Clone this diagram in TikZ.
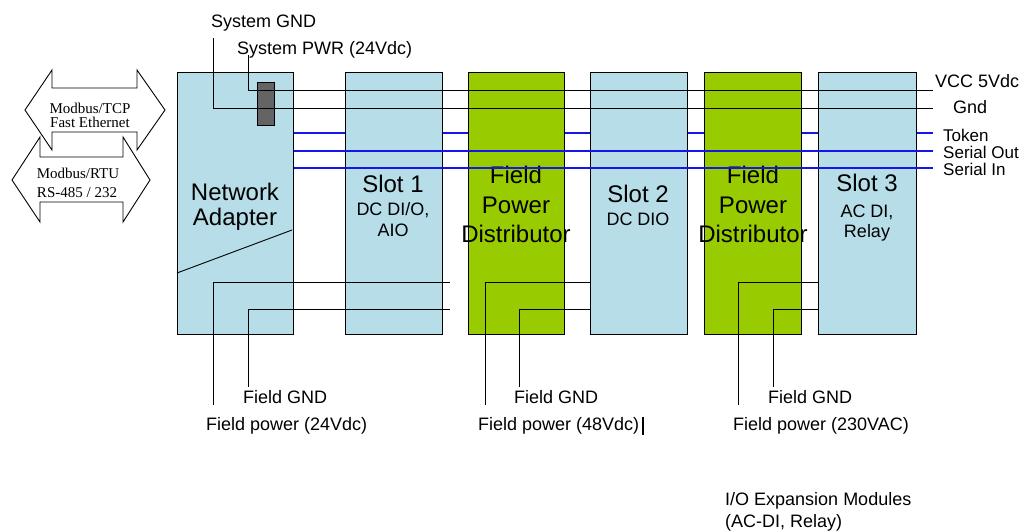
\documentclass[tikz,border=0pt]{standalone}
\usepackage{fontspec}
\setmainfont{Liberation Sans}
\newfontfamily\modbusfont{Liberation Serif}
\definecolor{slotblue}{RGB}{183,222,232}
\definecolor{fpdgreen}{RGB}{153,204,0}
\definecolor{pluggrey}{RGB}{100,100,100}
\definecolor{buswire}{RGB}{20,20,235}
\tikzset{
  module/.style={draw, line width=1pt, fill=slotblue, minimum height=262pt, inner sep=0pt},
  distributor/.style={module, fill=fpdgreen},
  title/.style={font=\fontsize{24}{26}\selectfont, anchor=base, inner sep=0pt},
  subtitle/.style={font=\fontsize{18}{20}\selectfont, anchor=base, inner sep=0pt},
  lbl/.style={font=\fontsize{18}{20}\selectfont, anchor=base west, inner sep=0pt},
  wire/.style={line width=0.9pt},
  sigwire/.style={line width=1.2pt, buswire},
  protocol/.style={draw, line width=0.9pt, fill=white},
  protolbl/.style={font=\modbusfont\fontsize{15}{17}\selectfont, anchor=base, inner sep=0pt}
}
\begin{document}
\begin{tikzpicture}[x=1pt, y=-1pt]
	\useasboundingbox (0,0) rectangle (1031,531);
	% Protocol arrows
	\draw[protocol] (25,110) -- (52,70) -- (52,88) -- (137,88) -- (137,70) -- (165,110)
		-- (137,150) -- (137,132) -- (52,132) -- (52,150) -- cycle;
	\draw[protocol] (12,180) -- (40,137) -- (40,157) -- (123,157) -- (123,137) -- (150,180)
		-- (123,222) -- (123,202) -- (40,202) -- (40,222) -- cycle;
	\node[protolbl] (tcp) at (90,113) {Modbus/TCP};
	\node[protolbl] (eth) at (90,127) {Fast Ethernet};
	\node[protolbl] (rtu) at (78,178) {Modbus/RTU};
	\node[protolbl] (rs) at (77,197) {RS-485 / 232};

	% Modules
	\node[module, minimum width=116pt] (na) at (235,203) {};
	\node[module, minimum width=97pt] (s1) at (393.5,203) {};
	\node[distributor, minimum width=96pt] (fpd1) at (516,203) {};
	\node[module, minimum width=97pt] (s2) at (638.5,203) {};
	\node[distributor, minimum width=97pt] (fpd2) at (752.5,203) {};
	\node[module, minimum width=98pt] (s3) at (867,203) {};
	\draw[wire] (177,273) -- (292,230);

	% Module texts
	\node[title] (natxt) at (235,200) {Network};
	\node[title] (natxtb) at (235,225) {Adapter};
	\node[title] (s1txt) at (393,192) {Slot 1};
	\node[subtitle] (s1sub) at (393,215) {DC DI/O,};
	\node[subtitle] (s1subb) at (393,236) {AIO};
	\node[title] (f1txt) at (516,183) {Field};
	\node[title] (f1txtb) at (516,213) {Power};
	\node[title] (f1txtc) at (516,242) {Distributor};
	\node[title] (s2txt) at (638,202) {Slot 2};
	\node[subtitle] (s2sub) at (638,225) {DC DIO};
	\node[title] (f2txt) at (753,183) {Field};
	\node[title] (f2txtb) at (753,213) {Power};
	\node[title] (f2txtc) at (753,242) {Distributor};
	\node[title] (s3txt) at (867,191) {Slot 3};
	\node[subtitle] (s3sub) at (867,217) {AC DI,};
	\node[subtitle] (s3subb) at (867,237) {Relay};

	% Bus ends
	\coordinate (vcc) at (933,90);
	\coordinate (gnd) at (933,108);
	\coordinate (tok) at (933,133);
	\coordinate (sout) at (933,151);
	\coordinate (sin) at (933,168);
	\coordinate (sysgnd) at (213,38);
	\coordinate (syspwr) at (248,55);

	% System power
	\node[draw, line width=1pt, fill=pluggrey, minimum width=17pt, minimum height=43pt, inner sep=0pt] (plug) at (265.5,103.5) {};
	\draw[wire] (syspwr) |- (vcc);
	\draw[wire] (sysgnd) |- (gnd);
	\node[lbl] (sysgndlbl) at (211,27) {System GND};
	\node[lbl] (syspwrlbl) at (237,54) {System PWR (24Vdc)};

	% Token and serial lines
	\draw[sigwire] (na.east |- tok) -- (s1.west |- tok);
	\draw[sigwire] (s1.east |- tok) -- (fpd1.west |- tok);
	\draw[sigwire] (fpd1.east |- tok) -- (s2.west |- tok);
	\draw[sigwire] (s2.east |- tok) -- (fpd2.west |- tok);
	\draw[sigwire] (fpd2.east |- tok) -- (s3.west |- tok);
	\draw[sigwire] (s3.east |- tok) -- (tok);
	\draw[sigwire] (na.east |- sout) -- (sout);
	\draw[sigwire] (na.east |- sin) -- (sin);

	\node[lbl] (vcclbl) at (935,87) {VCC 5Vdc};
	\node[lbl] (gndlbl) at (953,113) {Gnd};
	\node[lbl, font=\fontsize{17}{19}\selectfont] (toklbl) at (943,141) {Token};
	\node[lbl, font=\fontsize{17}{19}\selectfont] (soutlbl) at (943,158) {Serial Out};
	\node[lbl, font=\fontsize{17}{19}\selectfont] (sinlbl) at (943,175) {Serial In};

	% Field power
	\coordinate (fprow) at (0,282);
	\coordinate (fgrow) at (0,309);
	\coordinate (fp1) at (213,405);
	\coordinate (fg1) at (248,387);
	\coordinate (fp1e) at (450,282);
	\coordinate (fg1e) at (450,309);
	\coordinate (fp2) at (485,405);
	\coordinate (fg2) at (519,387);
	\coordinate (fp3) at (738,405);
	\coordinate (fg3) at (773,387);
	\draw[wire] (fp1) |- (fp1e);
	\draw[wire] (fg1) |- (fg1e);
	\draw[wire] (fp2) |- (s2.west |- fprow);
	\draw[wire] (fg2) |- (s2.west |- fgrow);
	\draw[wire] (fp3) |- (s3.west |- fprow);
	\draw[wire] (fg3) |- (s3.west |- fgrow);

	\node[lbl] (fg1lbl) at (243,403) {Field GND};
	\node[lbl] (fp1lbl) at (206,430) {Field power (24Vdc)};
	\node[lbl] (fg2lbl) at (514,403) {Field GND};
	\node[lbl] (fp2lbl) at (478,430) {Field power (48Vdc)};
	\draw[line width=1.2pt] (643,417) -- (643,435);
	\node[lbl] (fg3lbl) at (768,403) {Field GND};
	\node[lbl] (fp3lbl) at (733,430) {Field power (230VAC)};

	\node[lbl] (ioexp) at (725,505) {I/O Expansion Modules};
	\node[lbl] (ioexpb) at (725,527) {(AC-DI, Relay)};
\end{tikzpicture}
\end{document}
